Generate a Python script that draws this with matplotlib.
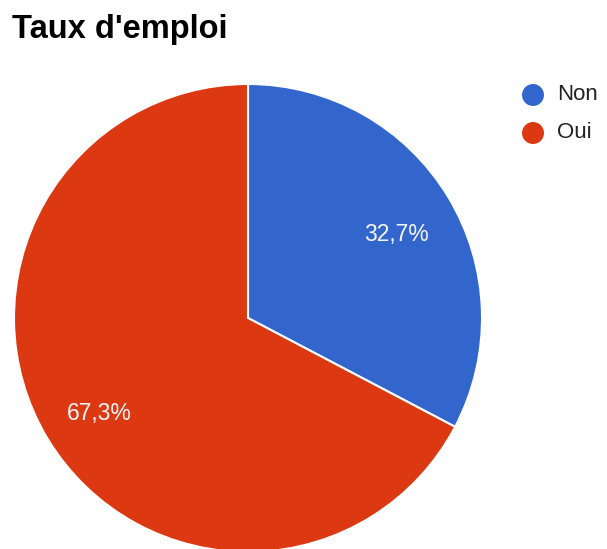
import matplotlib
matplotlib.use("Agg")
import matplotlib.pyplot as plt

title = "Taux d'emploi"
categories = ["Non", "Oui"]
values = [32.7, 67.3]
colors = ["#3366cc", "#dc3912"]

W, H = 607, 549
fig = plt.figure(figsize=(W / 100, H / 100), dpi=100)
fig.patch.set_facecolor("white")
plt.rcParams['font.family'] = ['Liberation Sans', 'DejaVu Sans']

cx, cy, r = 248, 318, 234
ax = fig.add_axes([(cx - r) / W, (H - cy - r) / H, 2 * r / W, 2 * r / H])
wedges, texts, autotexts = ax.pie(
    values, colors=colors, startangle=90, counterclock=False,
    autopct=lambda p: f"{p:.1f}%".replace('.', ','), pctdistance=0.74,
    wedgeprops=dict(edgecolor="white", linewidth=1.5),
    textprops=dict(color="#f4f4f8", fontsize=16.5))
for t in autotexts:
    x, y = t.get_position()
    t.set_position((x, y - 0.026))
ax.set_xlim(-1, 1)
ax.set_ylim(-1, 1)
ax.set_aspect('auto')
ax.axis('off')

fig.text(12 / W, 1 - 38 / H, title, fontsize=23.5, fontweight='bold',
         color="#000000", ha='left', va='baseline')

ov = fig.add_axes([0, 0, 1, 1], zorder=5)
ov.set_xlim(0, W)
ov.set_ylim(H, 0)
ov.axis('off')
ov.patch.set_alpha(0)
for i, (cat, col) in enumerate(zip(categories, colors)):
    y = 95 + i * 38
    ov.scatter([533], [y], s=250, color=col, edgecolors='none')
    ov.text(557, y, cat, fontsize=16, color="#222222", ha='left', va='center')

fig.savefig("out.png", dpi=100)
